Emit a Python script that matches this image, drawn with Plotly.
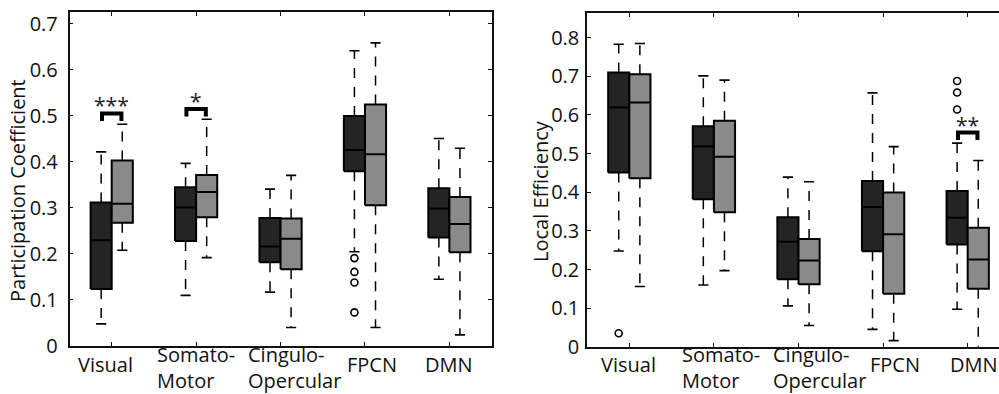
import plotly.graph_objects as go

# ---------------- data ----------------
categories = ["Visual", "Somato-\nMotor", "Cingulo-\nOpercular", "FPCN", "DMN"]

# Participation coefficient (left panel); group A = dark boxes, group B = gray boxes
pc_a_lo = [0.047, 0.109, 0.116, 0.204, 0.144]
pc_a_q1 = [0.123, 0.227, 0.181, 0.379, 0.235]
pc_a_med = [0.229, 0.300, 0.215, 0.425, 0.298]
pc_a_q3 = [0.311, 0.344, 0.277, 0.499, 0.342]
pc_a_hi = [0.421, 0.396, 0.340, 0.641, 0.450]
pc_a_out = [[], [], [], [0.190, 0.160, 0.137, 0.072], []]

pc_b_lo = [0.207, 0.191, 0.039, 0.039, 0.023]
pc_b_q1 = [0.267, 0.279, 0.166, 0.305, 0.203]
pc_b_med = [0.308, 0.334, 0.232, 0.416, 0.264]
pc_b_q3 = [0.402, 0.371, 0.276, 0.524, 0.323]
pc_b_hi = [0.481, 0.492, 0.370, 0.658, 0.429]
pc_b_out = [[], [], [], [], []]

# Local efficiency (right panel)
le_a_lo = [0.248, 0.160, 0.106, 0.045, 0.097]
le_a_q1 = [0.451, 0.382, 0.175, 0.247, 0.265]
le_a_med = [0.619, 0.518, 0.272, 0.362, 0.334]
le_a_q3 = [0.710, 0.571, 0.335, 0.429, 0.403]
le_a_hi = [0.783, 0.701, 0.439, 0.657, 0.527]
le_a_out = [[0.035], [], [], [], [0.688, 0.658, 0.614]]

le_b_lo = [0.156, 0.197, 0.055, 0.016, -0.005]
le_b_q1 = [0.436, 0.348, 0.162, 0.137, 0.150]
le_b_med = [0.632, 0.492, 0.223, 0.291, 0.226]
le_b_q3 = [0.705, 0.585, 0.279, 0.399, 0.308]
le_b_hi = [0.785, 0.690, 0.427, 0.518, 0.482]
le_b_out = [[], [], [], [], []]

# significance brackets: (category index, bracket height, stars)
pc_sig = [(0, 0.5046, "***"), (1, 0.5145, "*")]
le_sig = [(4, 0.5545, "**")]

pc_yticks = [0, 0.1, 0.2, 0.3, 0.4, 0.5, 0.6, 0.7]
le_yticks = [0, 0.1, 0.2, 0.3, 0.4, 0.5, 0.6, 0.7, 0.8]

pc_title = "Participation Coefficient"
le_title = "Local Efficiency"

# ---------------- style ----------------
W, H = 999, 394
FONT = "Open Sans"
FS = 20
DARK = "#242424"
GRAY = "#8a8a8a"
BOX_HALF = 0.125
CAP_HALF = 0.06
BR_HALF = 0.115

fig = go.Figure()


def add_group(xa, ya, offset, fill, lo, q1, med, q3, hi, outs):
    xs = [i + 1 + offset for i in range(len(lo))]
    # dashed whiskers (drawn from box outward)
    wx, wy = [], []
    for x, a, b, c, d in zip(xs, q3, hi, q1, lo):
        wx += [x, x, None, x, x, None]
        wy += [a, b, None, c, d, None]
    fig.add_trace(go.Scatter(x=wx, y=wy, xaxis=xa, yaxis=ya, mode="lines",
                             line=dict(color="black", width=1.5, dash="10px,9px"),
                             hoverinfo="skip", showlegend=False))
    # caps
    cx, cy = [], []
    for x, b, d in zip(xs, hi, lo):
        cx += [x - CAP_HALF, x + CAP_HALF, None, x - CAP_HALF, x + CAP_HALF, None]
        cy += [b, b, None, d, d, None]
    fig.add_trace(go.Scatter(x=cx, y=cy, xaxis=xa, yaxis=ya, mode="lines",
                             line=dict(color="black", width=1.6),
                             hoverinfo="skip", showlegend=False))
    # boxes
    bx, by = [], []
    for x, a, c in zip(xs, q3, q1):
        bx += [x - BOX_HALF, x + BOX_HALF, x + BOX_HALF, x - BOX_HALF, x - BOX_HALF, None]
        by += [c, c, a, a, c, None]
    fig.add_trace(go.Scatter(x=bx, y=by, xaxis=xa, yaxis=ya, mode="lines",
                             fill="toself", fillcolor=fill,
                             line=dict(color="black", width=2),
                             hoverinfo="skip", showlegend=False))
    # medians
    mx, my = [], []
    for x, m in zip(xs, med):
        mx += [x - BOX_HALF, x + BOX_HALF, None]
        my += [m, m, None]
    fig.add_trace(go.Scatter(x=mx, y=my, xaxis=xa, yaxis=ya, mode="lines",
                             line=dict(color="black", width=2),
                             hoverinfo="skip", showlegend=False))
    # outliers
    ox, oy = [], []
    for x, o in zip(xs, outs):
        for v in o:
            ox.append(x)
            oy.append(v)
    if ox:
        fig.add_trace(go.Scatter(x=ox, y=oy, xaxis=xa, yaxis=ya, mode="markers",
                                 marker=dict(symbol="circle-open", size=7,
                                             color="black", line=dict(width=1.6)),
                                 hoverinfo="skip", showlegend=False))


add_group("x", "y", -BOX_HALF, DARK, pc_a_lo, pc_a_q1, pc_a_med, pc_a_q3, pc_a_hi, pc_a_out)
add_group("x", "y", BOX_HALF, GRAY, pc_b_lo, pc_b_q1, pc_b_med, pc_b_q3, pc_b_hi, pc_b_out)
add_group("x2", "y2", -BOX_HALF, DARK, le_a_lo, le_a_q1, le_a_med, le_a_q3, le_a_hi, le_a_out)
add_group("x2", "y2", BOX_HALF, GRAY, le_b_lo, le_b_q1, le_b_med, le_b_q3, le_b_hi, le_b_out)

# panel geometry (pixels)
L_LEFT, L_RIGHT, L_TOP, L_BOT = 69.5, 491.6, 12.3, 345.5
R_LEFT, R_RIGHT, R_TOP, R_BOT = 587.0, 999.0, 13.3, 346.8
L_YMAX = 0.7245
R_YMAX = 0.863
R_XMAX = 5.37

annotations = []


def add_sig(sigs, xa, ya, xref, ymax, hpx):
    leg = 7.5 / hpx * ymax
    for idx, level, stars in sigs:
        c = idx + 1
        fig.add_trace(go.Scatter(
            x=[c - BR_HALF, c - BR_HALF, c + BR_HALF, c + BR_HALF],
            y=[level - leg, level, level, level - leg],
            xaxis=xa, yaxis=ya, mode="lines",
            line=dict(color="black", width=4), hoverinfo="skip", showlegend=False))
        annotations.append(dict(x=c, y=level, xref=xref, yref=ya, text=stars,
                                showarrow=False, xanchor="center", yanchor="middle",
                                yshift=8, font=dict(family=FONT, size=21, color="#222")))


add_sig(pc_sig, "x", "y", "x", L_YMAX, L_BOT - L_TOP)
add_sig(le_sig, "x2", "y2", "x2", R_YMAX, R_BOT - R_TOP)

# category labels (left aligned, multi-line ones in one text block)
left_shift = [-34, -39, -33, -18, -24]
right_shift = [-28, -32, -26, -13, -18]
for xref, shifts in (("x", left_shift), ("x2", right_shift)):
    for i, lab in enumerate(categories):
        lines = lab.split("\n")
        if len(lines) == 1:
            ypos, yanc = 1 - 364.6 / H, "middle"
        else:
            ypos, yanc = 0.5 / H, "bottom"
        annotations.append(dict(x=i + 1, y=ypos, xref=xref, yref="paper",
                                text="<br>".join(lines), align="left", showarrow=False,
                                xanchor="left", yanchor=yanc, xshift=shifts[i],
                                borderpad=0, borderwidth=0,
                                font=dict(family=FONT, size=FS, color="#111")))

# y titles
annotations.append(dict(x=17 / W, y=1 - 191 / H, xref="paper", yref="paper", text=pc_title,
                        textangle=-90, showarrow=False, xanchor="center", yanchor="middle",
                        font=dict(family=FONT, size=FS, color="#111")))
annotations.append(dict(x=540 / W, y=1 - 191 / H, xref="paper", yref="paper", text=le_title,
                        textangle=-90, showarrow=False, xanchor="center", yanchor="middle",
                        font=dict(family=FONT, size=FS, color="#111")))

axis_common = dict(showgrid=False, zeroline=False, showline=True, linecolor="#111",
                   linewidth=1.5, ticks="inside", ticklen=4, tickwidth=1.3, tickcolor="#111",
                   tickfont=dict(family=FONT, size=FS, color="#111"))

fig.update_layout(
    width=W, height=H,
    margin=dict(l=0, r=0, t=0, b=0, autoexpand=False),
    paper_bgcolor="white", plot_bgcolor="white",
    showlegend=False,
    xaxis=dict(domain=[L_LEFT / W, L_RIGHT / W], range=[0.5, 5.5], anchor="y",
               tickvals=[1, 2, 3, 4, 5], showticklabels=False, mirror="ticks", **axis_common),
    yaxis=dict(domain=[1 - L_BOT / H, 1 - L_TOP / H], range=[0, L_YMAX], anchor="x",
               tickvals=pc_yticks, ticktext=[f"{v:g}" for v in pc_yticks],
               mirror="ticks", ticklabelstandoff=6, **axis_common),
    xaxis2=dict(domain=[R_LEFT / W, R_RIGHT / W], range=[0.5, R_XMAX], anchor="y2",
                tickvals=[1, 2, 3, 4, 5], showticklabels=False, mirror="ticks", **axis_common),
    yaxis2=dict(domain=[1 - R_BOT / H, 1 - R_TOP / H], range=[0, R_YMAX], anchor="x2",
                tickvals=le_yticks, ticktext=[f"{v:g}" for v in le_yticks],
                mirror=False, ticklabelstandoff=2, **axis_common),
    annotations=annotations,
)

fig.write_html("out.html")
